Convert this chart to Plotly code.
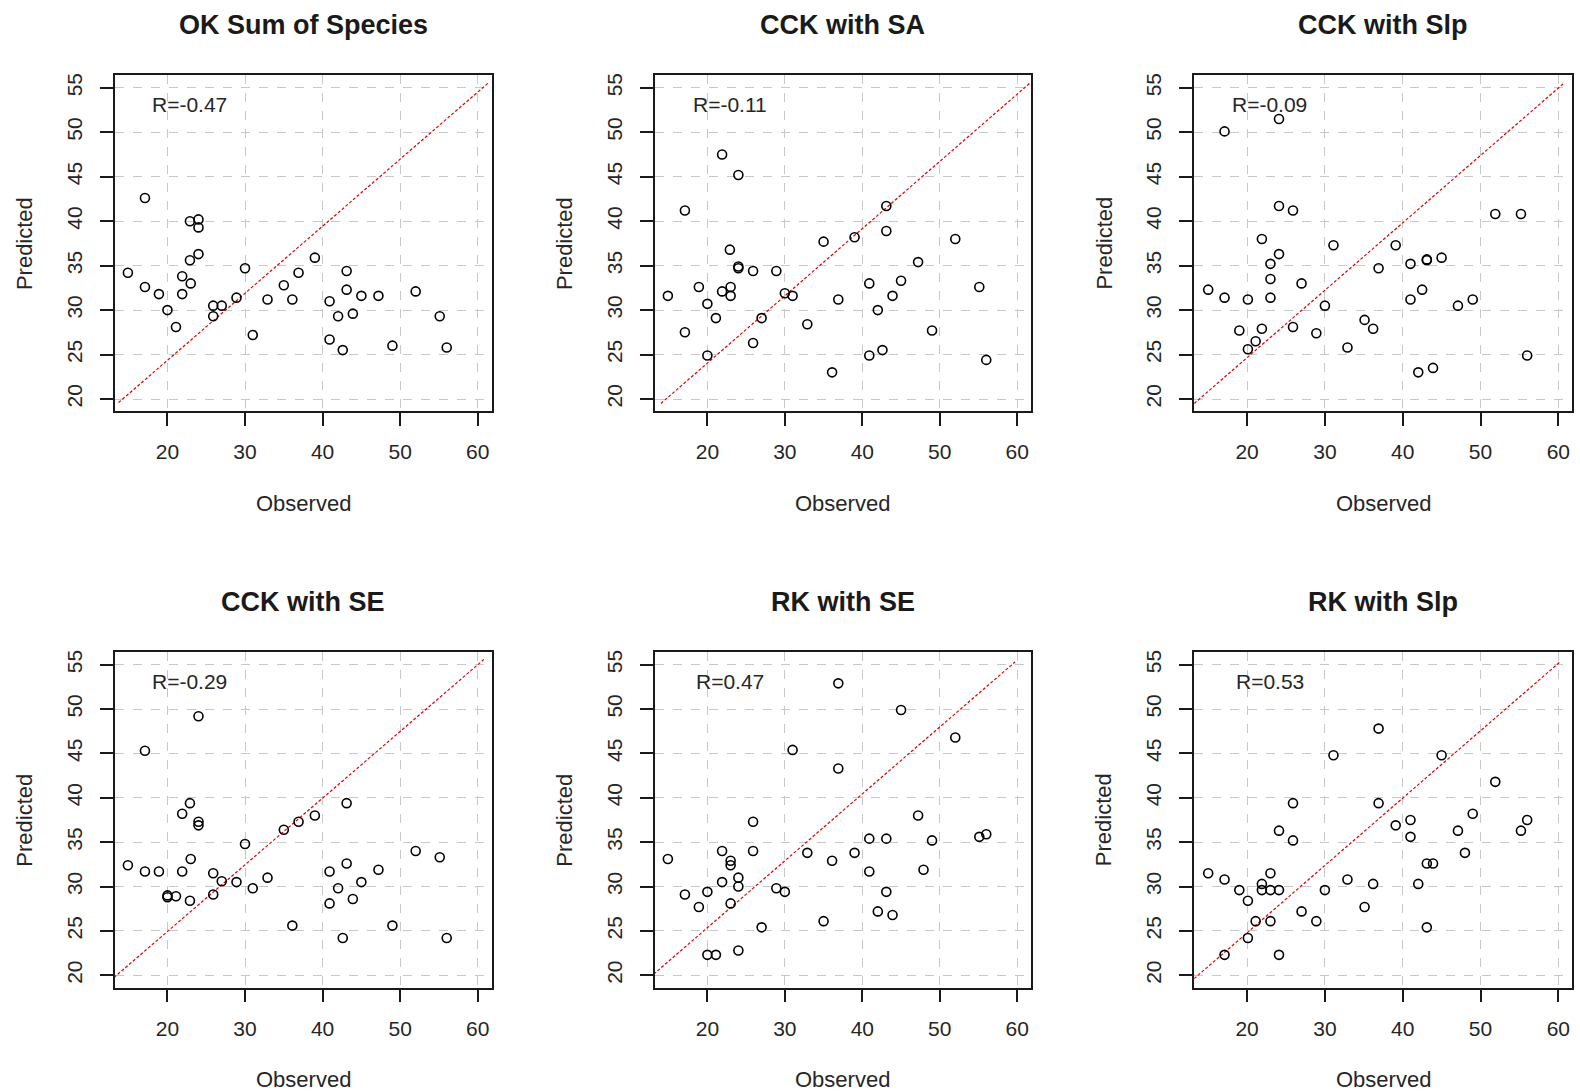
import plotly.graph_objects as go

titles = ["OK Sum of Species", "CCK with SA", "CCK with Slp",
          "CCK with SE", "RK with SE", "RK with Slp"]
r_labels = ["R=-0.47", "R=-0.11", "R=-0.09", "R=-0.29", "R=0.47", "R=0.53"]

obs_ok = [14.9, 17.1, 17.1, 18.9, 20.0, 21.1, 21.9, 21.9, 22.9, 24.0, 24.0, 24.0, 22.9, 23.0, 25.9, 25.9, 27.0, 28.9, 30.0, 31.0,
          32.9, 35.0, 36.1, 36.9, 39.0, 40.9, 40.9, 42.0, 42.6, 43.1, 43.1, 43.9, 45.0, 47.2, 49.0, 52.0, 55.1, 56.0]
pred_ok = [34.2, 42.6, 32.6, 31.8, 30.0, 28.1, 33.8, 31.8, 40.0, 40.2, 39.3, 36.3, 35.6, 33.0, 30.5, 29.3, 30.5, 31.4, 34.7, 27.2,
           31.2, 32.8, 31.2, 34.2, 35.9, 31.0, 26.7, 29.3, 25.5, 34.4, 32.3, 29.6, 31.6, 31.6, 26.0, 32.1, 29.3, 25.8]

obs_cck_sa = [14.9, 17.1, 17.1, 18.9, 20.0, 20.0, 21.1, 21.9, 21.9, 23.0, 23.0, 22.9, 24.0, 24.0, 24.0, 25.9, 25.9, 27.0, 28.9, 30.0,
              31.0, 32.9, 35.0, 36.1, 36.9, 39.0, 40.9, 40.9, 42.0, 42.6, 43.1, 43.1, 43.9, 45.0, 47.2, 49.0, 52.0, 55.1, 56.0]
pred_cck_sa = [31.6, 41.2, 27.5, 32.6, 30.7, 24.9, 29.1, 47.5, 32.1, 32.6, 31.6, 36.8, 34.9, 34.7, 45.2, 34.4, 26.3, 29.1, 34.4, 31.9,
               31.6, 28.4, 37.7, 23.0, 31.2, 38.2, 33.0, 24.9, 30.0, 25.5, 41.7, 38.9, 31.6, 33.3, 35.4, 27.7, 38.0, 32.6, 24.4]

obs_cck_slp = [15.0, 17.1, 17.1, 19.0, 20.1, 20.1, 21.1, 21.9, 21.9, 23.0, 23.0, 23.0, 24.1, 24.1, 24.1, 25.9, 25.9, 27.0, 28.9, 30.0,
               31.1, 32.9, 35.1, 36.2, 36.9, 39.1, 41.0, 41.0, 42.0, 42.5, 43.1, 43.1, 43.9, 45.0, 47.1, 49.0, 51.9, 55.2, 56.0]
pred_cck_slp = [32.3, 50.1, 31.4, 27.7, 31.2, 25.6, 26.5, 38.0, 27.9, 35.2, 33.5, 31.4, 51.5, 41.7, 36.3, 41.2, 28.1, 33.0, 27.4, 30.5,
                37.3, 25.8, 28.9, 27.9, 34.7, 37.3, 35.2, 31.2, 23.0, 32.3, 35.7, 35.6, 23.5, 35.9, 30.5, 31.2, 40.8, 40.8, 24.9]

obs_cck_se = [14.9, 17.1, 17.1, 18.9, 20.0, 20.0, 21.1, 21.9, 21.9, 22.9, 23.0, 22.9, 24.0, 24.0, 24.0, 25.9, 25.9, 27.0, 28.9, 30.0,
              31.0, 32.9, 35.0, 36.1, 36.9, 39.0, 40.9, 40.9, 42.0, 42.6, 43.1, 43.1, 43.9, 45.0, 47.2, 49.0, 52.0, 55.1, 56.0]
pred_cck_se = [32.4, 45.3, 31.7, 31.7, 29.0, 28.8, 28.9, 38.2, 31.7, 39.4, 33.1, 28.4, 49.2, 37.3, 36.9, 31.5, 29.1, 30.6, 30.5, 34.8,
               29.8, 31.0, 36.4, 25.6, 37.3, 38.0, 31.7, 28.1, 29.8, 24.2, 39.4, 32.6, 28.6, 30.5, 31.9, 25.6, 34.0, 33.3, 24.2]

obs_rk_se = [14.9, 17.1, 18.9, 20.0, 20.0, 21.1, 21.9, 21.9, 23.0, 23.0, 23.0, 24.0, 24.0, 24.0, 25.9, 25.9, 27.0, 28.9, 30.0, 31.0,
             32.9, 35.0, 36.1, 36.9, 36.9, 39.0, 40.9, 40.9, 42.0, 43.1, 43.1, 43.9, 45.0, 47.2, 47.9, 49.0, 52.0, 55.1, 56.0]
pred_rk_se = [33.1, 29.1, 27.7, 29.4, 22.3, 22.3, 34.0, 30.5, 32.9, 32.4, 28.1, 31.0, 30.0, 22.8, 37.3, 34.0, 25.4, 29.8, 29.4, 45.4,
              33.8, 26.1, 32.9, 52.9, 43.3, 33.8, 35.4, 31.7, 27.2, 35.4, 29.4, 26.8, 49.9, 38.0, 31.9, 35.2, 46.8, 35.6, 35.9]

obs_rk_slp = [15.0, 17.1, 17.1, 19.0, 20.1, 20.1, 21.1, 21.9, 21.9, 23.0, 23.0, 23.0, 24.1, 24.1, 24.1, 25.9, 25.9, 27.0, 28.9, 30.0,
              31.1, 32.9, 35.1, 36.2, 36.9, 36.9, 39.1, 41.0, 41.0, 42.0, 43.1, 43.9, 43.1, 45.0, 47.1, 48.0, 49.0, 51.9, 55.2, 56.0]
pred_rk_slp = [31.5, 30.8, 22.3, 29.6, 28.4, 24.2, 26.1, 30.3, 29.6, 31.5, 29.6, 26.1, 36.3, 29.6, 22.3, 39.4, 35.2, 27.2, 26.1, 29.6,
               44.8, 30.8, 27.7, 30.3, 47.8, 39.4, 36.9, 37.5, 35.6, 30.3, 32.6, 32.6, 25.4, 44.8, 36.3, 33.8, 38.2, 41.8, 36.3, 37.5]

# reference line end points (as drawn in each panel)
ref_x = [[13.7, 61.3], [14.0, 61.6], [13.2, 60.7], [13.1, 60.8], [12.1, 59.7], [12.7, 60.2]]
ref_y = [[19.6, 55.5], [19.5, 55.5], [19.5, 55.5], [19.75, 55.6], [19.4, 55.3], [19.25, 55.3]]

x_ticks = [20, 30, 40, 50, 60]
y_ticks = [20, 25, 30, 35, 40, 45, 50, 55]

observed = [obs_ok, obs_cck_sa, obs_cck_slp, obs_cck_se, obs_rk_se, obs_rk_slp]
predicted = [pred_ok, pred_cck_sa, pred_cck_slp, pred_cck_se, pred_rk_se, pred_rk_slp]

W, H = 1580, 1092
FONT = "Liberation Sans, Arial, sans-serif"
TXT = "#262626"

# plot box pixel positions
col_px = [(114.7, 491.7), (654.7, 1031.2), (1194.2, 1572.3)]
row_px = [(73.5, 410.2), (651.5, 987.5)]

fig = go.Figure()
layout = dict(width=W, height=H, autosize=False,
              margin=dict(l=0, r=0, t=0, b=0),
              paper_bgcolor="white", plot_bgcolor="white",
              showlegend=False, font=dict(family=FONT, color=TXT))
annotations = []

for i in range(6):
    r, c = divmod(i, 3)
    n = i + 1
    xa = "x" if n == 1 else f"x{n}"
    ya = "y" if n == 1 else f"y{n}"
    x0, x1 = col_px[c]
    y0, y1 = row_px[r]
    axis_common = dict(showline=True, linecolor="#1a1a1a", linewidth=1.6, mirror=True,
                       ticks="outside", ticklen=13, tickwidth=1.6, tickcolor="#1a1a1a",
                       showgrid=True, gridcolor="#c8c8c8", griddash="dash", gridwidth=1,
                       zeroline=False, tickfont=dict(family=FONT, size=21, color=TXT))
    layout["xaxis" if n == 1 else f"xaxis{n}"] = dict(
        axis_common, domain=[x0 / W, x1 / W], range=[13.2, 61.8],
        tickvals=x_ticks, anchor=ya, ticklabelstandoff=8)
    layout["yaxis" if n == 1 else f"yaxis{n}"] = dict(
        axis_common, domain=[1 - y1 / H, 1 - y0 / H], range=[18.6, 56.4],
        tickvals=y_ticks, anchor=xa, tickangle=-90, ticklabelstandoff=10)

    fig.add_trace(go.Scatter(x=ref_x[i], y=ref_y[i], mode="lines",
                             line=dict(color="#e00000", width=1.2, dash="3px,2px"),
                             xaxis=xa, yaxis=ya, hoverinfo="skip"))
    fig.add_trace(go.Scatter(x=observed[i], y=predicted[i], mode="markers",
                             marker=dict(symbol="circle-open", size=9, color="black",
                                         line=dict(width=1.6, color="black")),
                             xaxis=xa, yaxis=ya, cliponaxis=False))

    xc = (x0 + x1) / 2 / W
    annotations.append(dict(text=f"<b>{titles[i]}</b>", x=xc, y=1 - (y0 - 50) / H,
                            xref="paper", yref="paper", showarrow=False,
                            xanchor="center", yanchor="middle",
                            font=dict(family=FONT, size=27, color="#1a1a1a")))
    annotations.append(dict(text="Observed", x=xc, y=1 - (y1 + 92) / H,
                            xref="paper", yref="paper", showarrow=False,
                            xanchor="center", yanchor="middle",
                            font=dict(family=FONT, size=22, color=TXT)))
    annotations.append(dict(text="Predicted", x=(x0 - 90) / W, y=1 - (y0 + y1) / 2 / H,
                            xref="paper", yref="paper", showarrow=False, textangle=-90,
                            xanchor="center", yanchor="middle",
                            font=dict(family=FONT, size=22, color=TXT)))
    annotations.append(dict(text=r_labels[i], x=22.9, y=53.1, xref=xa, yref=ya,
                            showarrow=False, xanchor="center", yanchor="middle",
                            font=dict(family=FONT, size=21, color=TXT)))

layout["annotations"] = annotations
fig.update_layout(**layout)

fig.write_html("out.html", config={"displayModeBar": False},
               post_script="document.body.style.margin='0px';document.body.style.overflow='hidden';")
